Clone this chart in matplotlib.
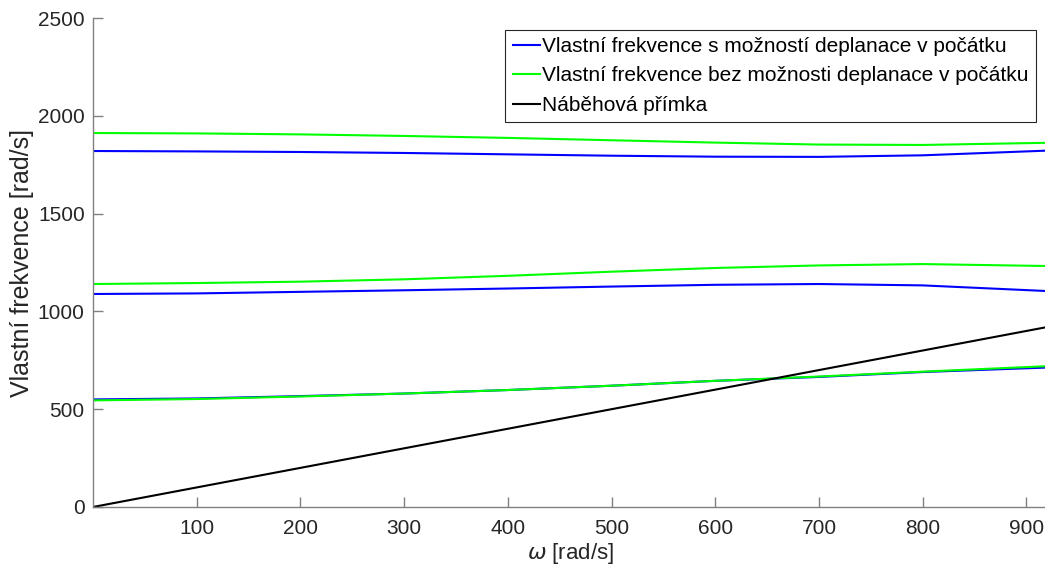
import numpy as np
import matplotlib.pyplot as plt

plt.rcParams['font.family'] = ['Liberation Sans', 'DejaVu Sans']
plt.rcParams['mathtext.fontset'] = 'dejavusans'

# omega [rad/s] sample points
w = [0, 100, 200, 300, 400, 500, 600, 700, 800, 920]

# eigenfrequencies with warping allowed at the origin
s1_low = [550, 555, 567, 580, 598, 620, 645, 665, 690, 713]
s1_mid = [1089, 1092, 1100, 1108, 1117, 1127, 1136, 1140, 1133, 1104]
s1_high = [1820, 1818, 1815, 1810, 1803, 1796, 1791, 1790, 1798, 1822]

# eigenfrequencies without warping at the origin
s2_low = [545, 552, 565, 580, 598, 620, 645, 667, 692, 720]
s2_mid = [1140, 1145, 1152, 1164, 1182, 1203, 1222, 1235, 1242, 1232]
s2_high = [1912, 1910, 1905, 1897, 1887, 1875, 1863, 1853, 1851, 1862]

# run-up line omega = omega
line_w = [0, 920]

fig = plt.figure(figsize=(10.45, 5.68), dpi=100)
ax = fig.add_axes([0.089, 0.1074, 0.913, 0.8609])

blue = '#0000ff'
green = '#00ff00'
lw = 1.5

ax.plot(w, s1_low, color=blue, lw=lw, label='Vlastní frekvence s možností deplanace v počátku')
ax.plot(w, s2_low, color=green, lw=lw, label='Vlastní frekvence bez možnosti deplanace v počátku')
ax.plot(line_w, line_w, color='black', lw=lw, label='Náběhová přímka')
ax.plot(w, s1_mid, color=blue, lw=lw)
ax.plot(w, s2_mid, color=green, lw=lw)
ax.plot(w, s1_high, color=blue, lw=lw)
ax.plot(w, s2_high, color=green, lw=lw)

ax.set_xlim(0, 920)
ax.set_ylim(0, 2500)
ax.set_xticks(range(100, 901, 100))
ax.set_yticks(range(0, 2501, 500))

for side in ['top', 'right']:
    ax.spines[side].set_visible(False)
for side in ['left', 'bottom']:
    ax.spines[side].set_color('#808080')
    ax.spines[side].set_linewidth(1.0)
ax.tick_params(direction='in', length=7, width=1, color='#808080',
               labelcolor='#262626', labelsize=15)
ax.tick_params(axis='x', pad=9)
ax.tick_params(axis='y', pad=6)

ax.set_xlabel(r'$\omega$ [rad/s]', fontsize=16, color='#262626', labelpad=2)
ax.set_ylabel('Vlastní frekvence [rad/s]', fontsize=18, color='#262626', labelpad=3)

leg = ax.legend(loc='upper right', bbox_to_anchor=(0.988, 0.976), fontsize=15,
                handlelength=1.3, handletextpad=0.1, borderpad=0.35,
                labelspacing=0.5, fancybox=False, framealpha=1,
                borderaxespad=0)
leg.get_frame().set_edgecolor('#262626')
leg.get_frame().set_linewidth(0.8)

fig.savefig('out.png', dpi=100)
